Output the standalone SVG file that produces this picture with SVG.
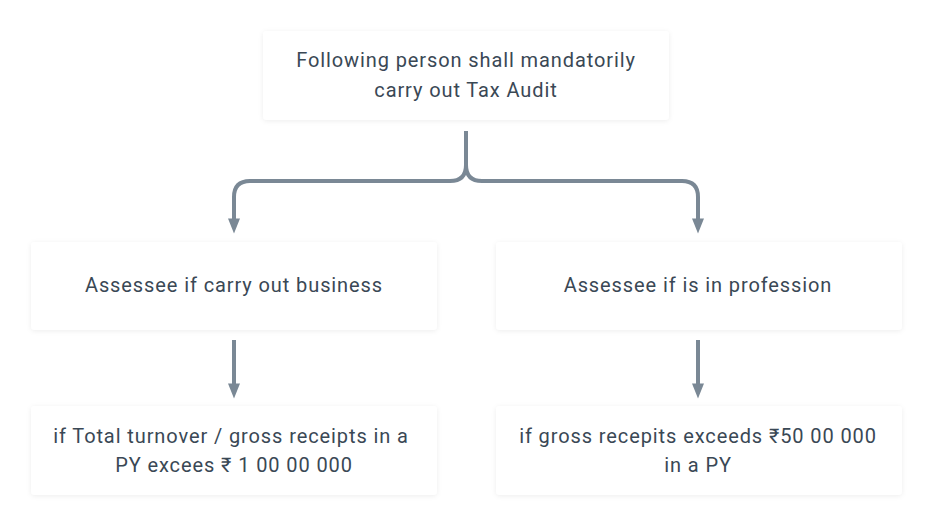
<svg xmlns="http://www.w3.org/2000/svg" width="932" height="527" viewBox="0 0 932 527">
<style>
.box{fill:#ffffff;filter:url(#sh);}
.t{font-family:Roboto,"Noto Sans","DejaVu Sans",sans-serif;font-size:20px;letter-spacing:0.9px;fill:#3a4855;text-anchor:middle;}
.c{fill:none;stroke:#7a8895;stroke-width:4;}
</style>
<defs>
<filter id="sh" x="-10%" y="-20%" width="120%" height="140%">
<feDropShadow dx="0" dy="1" stdDeviation="2.5" flood-color="#000" flood-opacity="0.07"/>
</filter>
<marker id="ah" viewBox="0 0 10 8" refX="5" refY="4" markerWidth="3.8" markerHeight="3" orient="auto" markerUnits="strokeWidth">
<path d="M0,0 L10,4 L0,8 z" fill="#7a8895"/>
</marker>
</defs>
<rect width="932" height="527" fill="#ffffff"/>
<g id="connectors">
<path class="c" d="M466,131 V165 Q466,181 450,181 H250 Q234,181 234,197 V226" marker-end="url(#ah)"/>
<path class="c" d="M466,131 V165 Q466,181 482,181 H682 Q698,181 698,197 V226" marker-end="url(#ah)"/>
<path class="c" d="M234,340 V391" marker-end="url(#ah)"/>
<path class="c" d="M698,340 V391" marker-end="url(#ah)"/>
</g>
<g id="top">
<rect class="box" x="263" y="31" width="406" height="89" rx="4"/>
<text class="t" x="466" y="67">Following person shall mandatorily</text>
<text class="t" x="466" y="97">carry out Tax Audit</text>
</g>
<g id="business">
<rect class="box" x="31" y="242" width="406" height="88" rx="4"/>
<text class="t" x="234" y="292">Assessee if carry out business</text>
</g>
<g id="profession">
<rect class="box" x="496" y="242" width="406" height="88" rx="4"/>
<text class="t" x="698" y="292">Assessee if is in profession</text>
</g>
<g id="business-limit">
<rect class="box" x="31" y="406" width="406" height="89" rx="4"/>
<text class="t" x="231" y="443">if Total turnover / gross receipts in a</text>
<text class="t" x="234" y="472">PY excees ₹ 1 00 00 000</text>
</g>
<g id="profession-limit">
<rect class="box" x="496" y="406" width="406" height="89" rx="4"/>
<text class="t" x="698" y="443">if gross recepits exceeds ₹50 00 000</text>
<text class="t" x="698" y="472">in a PY</text>
</g>
</svg>
